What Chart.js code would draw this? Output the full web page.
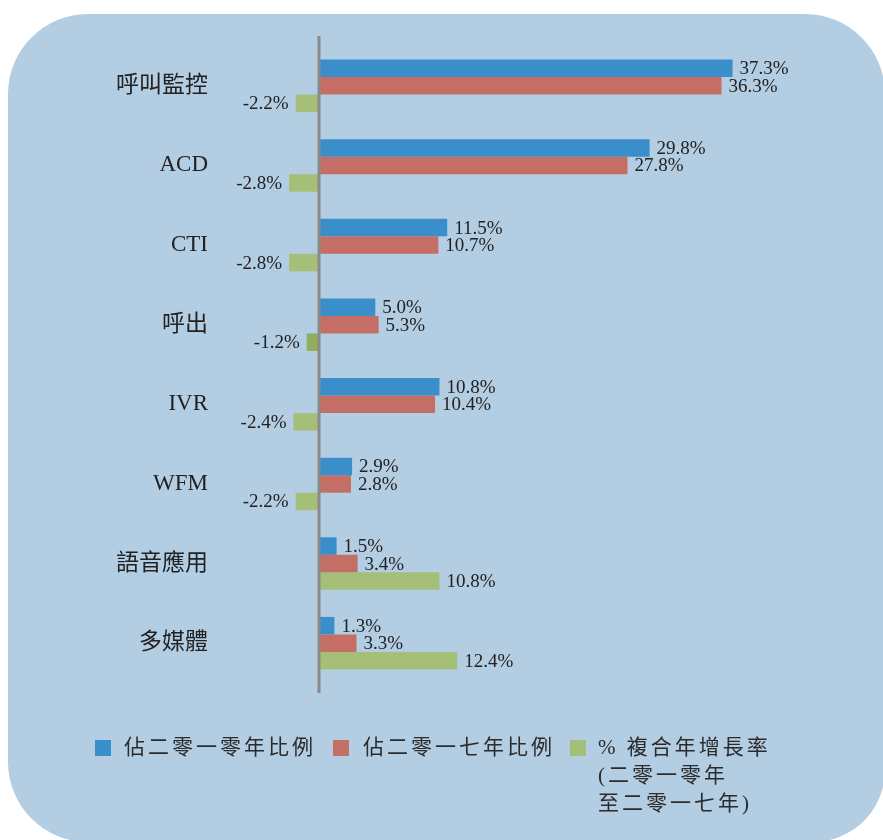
<!DOCTYPE html>
<html>
<head>
<meta charset="utf-8">
<script src="https://cdn.jsdelivr.net/npm/chart.js@4"></script>
<style>
  html, body { margin: 0; padding: 0; background: #fff; }
  body { width: 883px; height: 840px; position: relative; overflow: hidden; }
  .panel {
    position: absolute; left: 8px; top: 14px; width: 877px; height: 828px;
    background: #b3cde3;
    border-radius: 80px 80px 72px 80px;
  }
  #chart { position: absolute; left: 0; top: 0; }
  .legend { position: absolute; top: 0; left: 0; width: 883px; height: 840px; font-family: "Liberation Serif", "Noto Sans CJK TC", serif; color: #2b2b2b; }
  .legend .sw { position: absolute; width: 16px; height: 16px; top: 740px; }
  .legend .tx { position: absolute; top: 733px; font-size: 21px; line-height: 28px; letter-spacing: 3px; white-space: pre; }
</style>
</head>
<body>
<div class="panel"></div>
<canvas id="chart" width="883" height="840"></canvas>
<div class="legend" id="legend"></div>
<script>
// ===== 資料 =====
const categories = ["呼叫監控", "ACD", "CTI", "呼出", "IVR", "WFM", "語音應用", "多媒體"];
const share2010 = [37.3, 29.8, 11.5, 5.0, 10.8, 2.9, 1.5, 1.3];
const share2017 = [36.3, 27.8, 10.7, 5.3, 10.4, 2.8, 3.4, 3.3];
const cagr = [-2.2, -2.8, -2.8, -1.2, -2.4, -2.2, 10.8, 12.4];
const seriesNames = ["佔二零一零年比例", "佔二零一七年比例", "% 複合年增長率\n(二零一零年\n至二零一七年)"];

// ===== 樣式 =====
const blue = "#3a8fcb";
const red = "#c46e66";
const green = "#a5bf78";
const greenDark = "#8fae5c";
const serif = '"Liberation Serif", "Noto Sans CJK TC", serif';

// 數值標籤
const valueLabels = {
  id: "valueLabels",
  afterDatasetsDraw(chart) {
    const ctx = chart.ctx;
    ctx.save();
    ctx.font = "19px " + serif;
    ctx.fillStyle = "#222";
    ctx.textBaseline = "middle";
    chart.data.datasets.forEach((ds, i) => {
      chart.getDatasetMeta(i).data.forEach((bar, j) => {
        const v = ds.data[j];
        const txt = v.toFixed(1) + "%";
        if (v >= 0) {
          ctx.textAlign = "left";
          ctx.fillText(txt, bar.x + 7, bar.y + 1);
        } else {
          ctx.textAlign = "right";
          ctx.fillText(txt, bar.x - 7, bar.y + 1);
        }
      });
    });
    ctx.restore();
  },
};

// 零軸線
const zeroLine = {
  id: "zeroLine",
  afterDatasetsDraw(chart) {
    const x = chart.scales.x.getPixelForValue(0) - 1;
    const { top, bottom } = chart.chartArea;
    const ctx = chart.ctx;
    ctx.save();
    ctx.strokeStyle = "#8a8a8a";
    ctx.lineWidth = 3;
    ctx.beginPath();
    ctx.moveTo(x, top - 10);
    ctx.lineTo(x, bottom + 10);
    ctx.stroke();
    ctx.restore();
  },
};

new Chart(document.getElementById("chart"), {
  type: "bar",
  data: {
    labels: categories,
    datasets: [
      { label: seriesNames[0], data: share2010, backgroundColor: blue },
      { label: seriesNames[1], data: share2017, backgroundColor: red },
      {
        label: seriesNames[2],
        data: cagr,
        backgroundColor: cagr.map((v, i) => (i === 3 ? greenDark : green)),
      },
    ],
  },
  options: {
    indexAxis: "y",
    responsive: false,
    animation: false,
    layout: { padding: { top: 46, bottom: 157, right: 23, left: 0 } },
    datasets: { bar: { barPercentage: 1, categoryPercentage: 0.66 } },
    plugins: { legend: { display: false }, tooltip: { enabled: false } },
    scales: {
      x: { display: false, min: -8.86, max: 48.82 },
      y: {
        grid: { display: false },
        border: { display: false },
        ticks: { color: "#222", font: { family: serif, size: 23 }, padding: 6 },
        afterFit(scale) { scale.width = 222; },
      },
    },
  },
  plugins: [valueLabels, zeroLine],
});

// ===== 圖例 =====
const legendEl = document.getElementById("legend");
const legendColors = [blue, red, green];
const swatchX = [95, 333, 570];
const textX = [124, 363, 598];
seriesNames.forEach((name, i) => {
  const sw = document.createElement("div");
  sw.className = "sw";
  sw.style.left = swatchX[i] + "px";
  sw.style.background = legendColors[i];
  const tx = document.createElement("div");
  tx.className = "tx";
  tx.style.left = textX[i] + "px";
  tx.textContent = name;
  legendEl.appendChild(sw);
  legendEl.appendChild(tx);
});
</script>
</body>
</html>
